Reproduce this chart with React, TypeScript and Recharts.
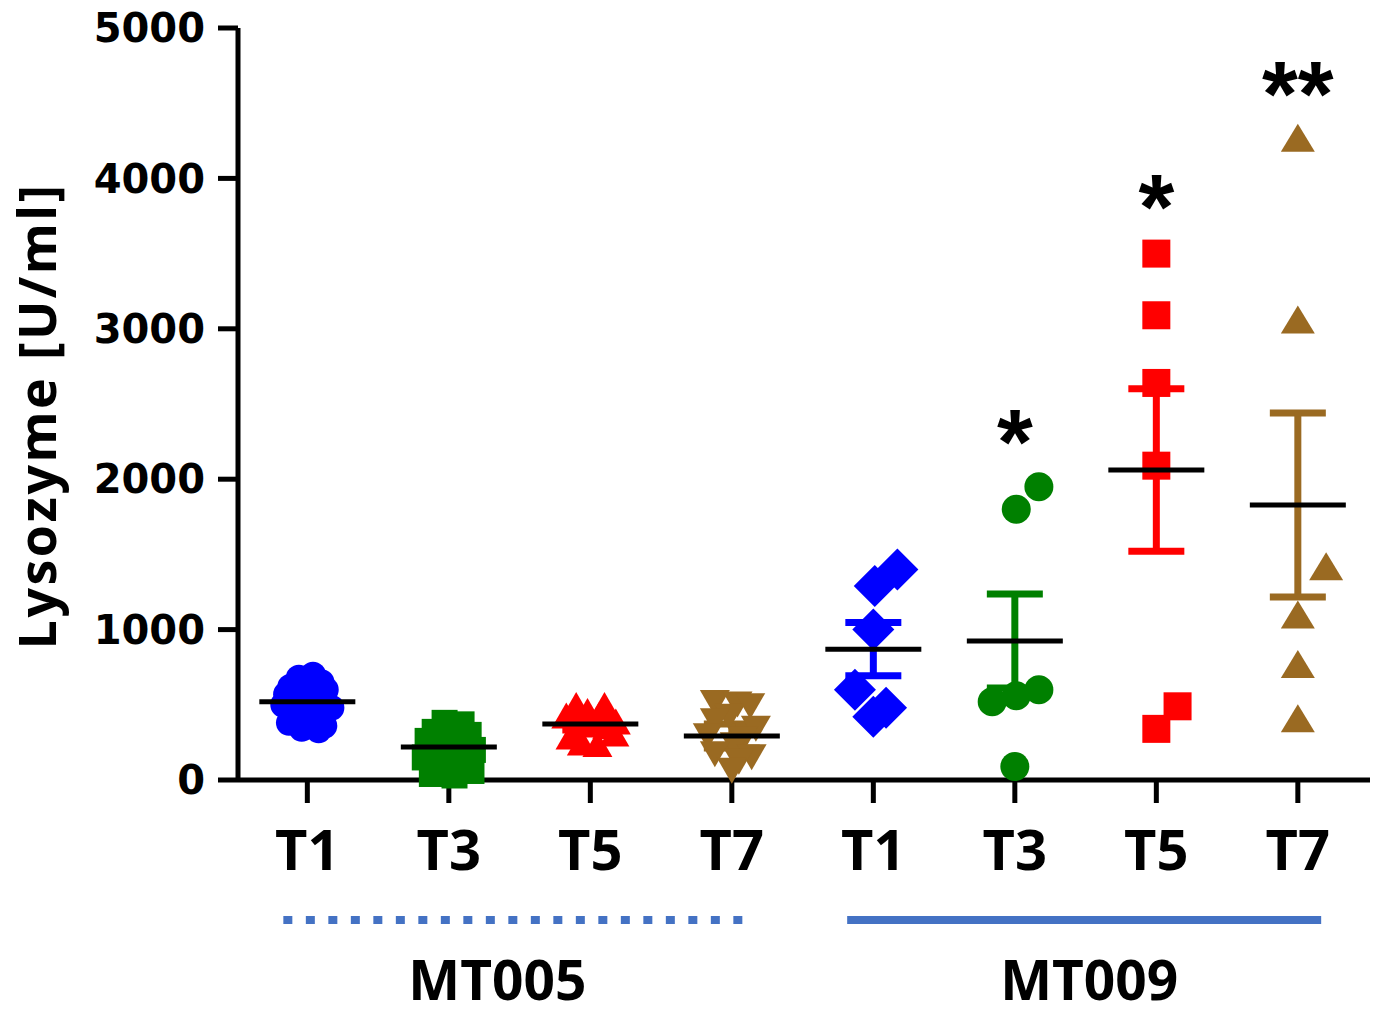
import { ComposedChart, Scatter, XAxis, YAxis, ErrorBar } from 'recharts';

// x positions 1..8 on a numeric axis, labels below
const categories = ['T1', 'T3', 'T5', 'T7', 'T1', 'T3', 'T5', 'T7'];
const yTicks = [0, 1000, 2000, 3000, 4000, 5000];

// MT005 (individual animals)
const mt005T1 = [700, 680, 650, 620, 600, 570, 560, 520, 500, 480, 440, 420, 380, 360, 340, 330];
const mt005T1Spread = [0.04, -0.06, 0.1, -0.12, 0.13, -0.15, 0.0, 0.08, -0.17, 0.17, -0.1, 0.05, -0.13, 0.12, -0.04, 0.08];
const mt005T3 = [380, 370, 320, 300, 260, 220, 200, 150, 120, 100, 60, 40, 30];
const mt005T3Spread = [-0.03, 0.09, -0.1, 0.14, -0.15, 0.02, 0.17, -0.17, 0.1, 0.0, 0.16, -0.12, 0.04];
const mt005T5 = [470, 470, 430, 400, 400, 360, 340, 330, 280, 260, 220, 210];
const mt005T5Spread = [-0.1, 0.1, -0.02, -0.17, 0.06, 0.18, -0.05, 0.12, 0.17, -0.14, -0.06, 0.05];
const mt005T7 = [540, 530, 520, 450, 420, 370, 320, 300, 260, 200, 180, 150, 90];
const mt005T7Spread = [-0.12, 0.04, 0.13, -0.02, -0.12, 0.17, -0.17, 0.08, 0.02, -0.12, 0.14, 0.05, 0.0];

// MT009
const mt009T1 = [1400, 1290, 1000, 600, 480, 420];
const mt009T1Spread = [0.17, 0.01, 0.0, -0.13, 0.09, 0.0];
const mt009T3 = [1950, 1800, 600, 560, 520, 90];
const mt009T3Spread = [0.17, 0.01, 0.17, 0.01, -0.16, 0.0];
const mt009T5 = [3500, 3090, 2640, 2090, 490, 340];
const mt009T5Spread = [0.0, 0.0, 0.0, 0.0, 0.15, 0.0];
const mt009T7 = [4240, 3030, 1390, 1070, 740, 380];
const mt009T7Spread = [0.0, 0.0, 0.2, 0.0, 0.0, 0.0];

// mean +/- SEM per group, in category order
const means = [520, 220, 372, 293, 870, 924, 2061, 1828];
const sems = [45, 50, 40, 80, 177, 313, 540, 612];

// significance marks
const starLabels = ['*', '*', '**'];
const starPositions = [6, 7, 8];
const starHeights = [2327, 3890, 4641];

const groupNames = ['MT005', 'MT009'];
const groupCenters = [2.47, 6.49];

const BLUE = '#0000FF';
const GREEN = '#008000';
const RED = '#FF0000';
const BROWN = '#9A6A22';
const LINE_BLUE = '#4472C4';
const colorByTime = [BLUE, GREEN, RED, BROWN];

// label nudges under the group bars (px)
const groupLabelDx = [-18, 5];
const groupHalfWidth = [232, 237];

const toPoints = (pos: number, values: number[], spread: number[]) =>
  values.map((v, i) => ({ x: pos + spread[i], y: v }));

const circle = (r: number, fill: string) => (p: any) => (
  <circle cx={p.cx} cy={p.cy} r={r} fill={fill} />
);
const square = (s: number, fill: string) => (p: any) => (
  <rect x={p.cx - s / 2} y={p.cy - s / 2} width={s} height={s} fill={fill} />
);
const triUp = (w: number, h: number, fill: string) => (p: any) => (
  <polygon
    points={`${p.cx},${p.cy - (h * 2) / 3} ${p.cx - w / 2},${p.cy + h / 3} ${p.cx + w / 2},${p.cy + h / 3}`}
    fill={fill}
  />
);
const triDown = (w: number, h: number, fill: string) => (p: any) => (
  <polygon
    points={`${p.cx},${p.cy + (h * 2) / 3} ${p.cx - w / 2},${p.cy - h / 3} ${p.cx + w / 2},${p.cy - h / 3}`}
    fill={fill}
  />
);
const diamond = (d: number, fill: string) => (p: any) => (
  <polygon
    points={`${p.cx},${p.cy - d} ${p.cx + d},${p.cy} ${p.cx},${p.cy + d} ${p.cx - d},${p.cy}`}
    fill={fill}
  />
);

const pointSeries = [
  { name: 'MT005 T1', data: toPoints(1, mt005T1, mt005T1Spread), shape: circle(13, BLUE) },
  { name: 'MT005 T3', data: toPoints(2, mt005T3, mt005T3Spread), shape: square(26, GREEN) },
  { name: 'MT005 T5', data: toPoints(3, mt005T5, mt005T5Spread), shape: triUp(30, 26, RED) },
  { name: 'MT005 T7', data: toPoints(4, mt005T7, mt005T7Spread), shape: triDown(30, 26, BROWN) },
  { name: 'MT009 T1', data: toPoints(5, mt009T1, mt009T1Spread), shape: diamond(21, BLUE) },
  { name: 'MT009 T3', data: toPoints(6, mt009T3, mt009T3Spread), shape: circle(14.5, GREEN) },
  { name: 'MT009 T5', data: toPoints(7, mt009T5, mt009T5Spread), shape: square(28, RED) },
  { name: 'MT009 T7', data: toPoints(8, mt009T7, mt009T7Spread), shape: triUp(34, 28, BROWN) },
];

const meanData = means.map((m, i) => ({ x: i + 1, y: m, e: sems[i] }));
const errorSeries = colorByTime.map((c, t) => ({
  color: c,
  data: meanData.filter((_, i) => i % 4 === t),
}));
const starData = starLabels.map((t, i) => ({ x: starPositions[i], y: starHeights[i], t }));

const MeanLine = (p: any) => (
  <line x1={p.cx - 48} x2={p.cx + 48} y1={p.cy} y2={p.cy} stroke="#000" strokeWidth={5} />
);

const Star = (p: any) => {
  const t = p.payload?.t ?? p.t;
  return (
    <text
      x={p.cx}
      y={p.cy + 44}
      textAnchor="middle"
      fontFamily="Liberation Sans, Arial, sans-serif"
      fontWeight={700}
      fontSize={92}
      fill="#000"
    >
      {t}
    </text>
  );
};

const GroupTick = (p: any) => {
  const i = groupCenters.indexOf(p.payload.value);
  return (
    <g>
      <line
        x1={p.x - groupHalfWidth[i]}
        x2={p.x + groupHalfWidth[i]}
        y1={p.y + 20}
        y2={p.y + 20}
        stroke={LINE_BLUE}
        strokeWidth={8}
        strokeDasharray={i === 0 ? '9 13.5' : undefined}
      />
      <text
        x={p.x + groupLabelDx[i]}
        y={p.y + 100}
        textAnchor="middle"
        fontFamily="Open Sans, sans-serif"
        fontWeight={700}
        fontSize={55}
        fill="#000"
      >
        {groupNames[i]}
      </text>
    </g>
  );
};

const YLabel = (p: any) => {
  const vb = p.viewBox || { y: 28, height: 752 };
  const cy = vb.y + vb.height / 2 + 12;
  return (
    <text
      transform={`translate(56, ${cy}) rotate(-90)`}
      textAnchor="middle"
      fontFamily="Open Sans, sans-serif"
      fontWeight={700}
      fontSize={52}
      letterSpacing={2.5}
      fill="#000"
    >
      Lysozyme [U/ml]
    </text>
  );
};

export default function App() {
  return (
    <div style={{ position: 'absolute', left: 0, top: 0, width: 1378, height: 1016, background: '#fff' }}>
      <ComposedChart width={1378} height={1016} margin={{ top: 28, right: 8, bottom: 0, left: 0 }}>
        <XAxis
          type="number"
          dataKey="x"
          domain={[0.51, 8.51]}
          ticks={[1, 2, 3, 4, 5, 6, 7, 8]}
          tickFormatter={(v: number) => categories[v - 1]}
          allowDataOverflow
          height={120}
          axisLine={{ stroke: '#000', strokeWidth: 5 }}
          tickLine={{ stroke: '#000', strokeWidth: 5 }}
          tickSize={23}
          tickMargin={27}
          tick={{ fontSize: 56, fontWeight: 700, fontFamily: 'Open Sans, sans-serif', fill: '#000' }}
          interval={0}
        />
        <XAxis
          xAxisId="grp"
          type="number"
          dataKey="x"
          domain={[0.51, 8.51]}
          ticks={groupCenters}
          allowDataOverflow
          height={116}
          axisLine={false}
          tickLine={false}
          tickSize={0}
          tickMargin={0}
          tick={(p: any) => <GroupTick {...p} />}
          interval={0}
        />
        <YAxis
          type="number"
          dataKey="y"
          domain={[0, 5000]}
          ticks={yTicks}
          width={238}
          axisLine={{ stroke: '#000', strokeWidth: 5 }}
          tickLine={{ stroke: '#000', strokeWidth: 5 }}
          tickSize={20}
          tickMargin={13}
          tick={{ fontSize: 40, fontWeight: 700, fontFamily: 'DejaVu Sans, sans-serif', fill: '#000' }}
          interval={0}
          label={<YLabel />}
        />
        {pointSeries.map((s) => (
          <Scatter key={s.name} name={s.name} data={s.data} shape={s.shape} isAnimationActive={false} />
        ))}
        {errorSeries.map((s, i) => (
          <Scatter key={'err' + i} data={s.data} shape={() => <g />} isAnimationActive={false}>
            <ErrorBar dataKey="e" direction="y" width={28} stroke={s.color} strokeWidth={7} />
          </Scatter>
        ))}
        <Scatter data={meanData} shape={MeanLine} isAnimationActive={false} />
        <Scatter xAxisId="grp" data={starData} shape={Star} isAnimationActive={false} />
      </ComposedChart>
    </div>
  );
}
